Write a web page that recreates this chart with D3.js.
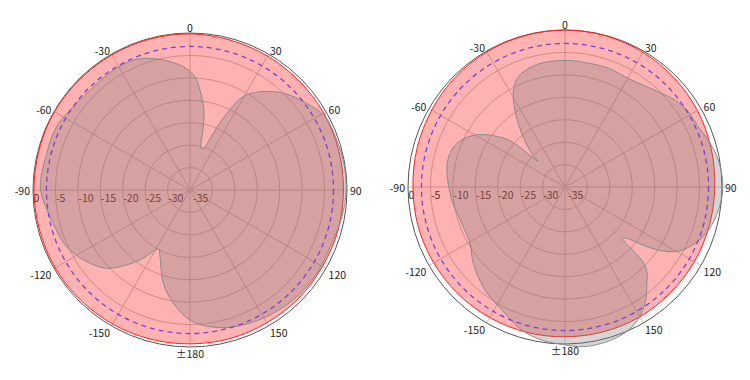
<!DOCTYPE html>
<html><head><meta charset="utf-8">
<script src="https://cdn.jsdelivr.net/npm/d3@7"></script>
<style>body{margin:0;background:#fff}svg{display:block}</style>
</head><body>
<svg id="chart" width="750" height="380"></svg>
<script>
// ---- data ----
const angleTicks  = [0, 30, 60, 90, 120, 150, 180, -150, -120, -90, -60, -30];
const angleLabels = ["0", "30", "60", "90", "120", "150", "±180", "-150", "-120", "-90", "-60", "-30"];
const ringTicks   = [0, -5, -10, -15, -20, -25, -30, -35];
const ringLabels  = ["0", "-5", "-10", "-15", "-20", "-25", "-30", "-35"];
const refLevel = -3;

const refAngles = [0,15,30,45,60,75,90,105,120,135,150,165,180,195,210,225,240,255,270,285,300,315,330,345];
const leftRef  = [-0.2,-0.4,-0.5,-0.6,-0.6,-0.7,-0.8,-0.8,-0.9,-0.8,-0.8,-0.7,-0.7,-0.6,-0.5,-0.4,-0.3,-0.3,-0.2,-0.2,-0.1,-0.2,-0.2,-0.2];
const rightRef = [0.0,-0.1,-0.3,-0.6,-0.9,-1.3,-1.6,-1.7,-1.7,-1.7,-1.6,-1.6,-1.6,-1.5,-1.4,-1.3,-1.2,-1.1,-1.1,-0.9,-0.7,-0.4,-0.2,-0.1];

const leftAngles = [-180,-171.6,-164,-155.8,-152,-145.6,-139.8,-133.2,-124.8,-114.7,-103.7,-92.7,-88,-76.9,-64.6,-48.8,-32.6,-23.6,-18.2,-10.2,-1.6,2.5,5.7,9.9,12.2,14.5,16.5,19.1,22.3,25.6,29.7,35.5,44,53.4,61.8,71.2,80,90,100,112,123.3,136.8,150.3,162.4,171.7];
const leftGain   = [-6.0,-9.5,-13.4,-18.7,-20.1,-16.6,-13.1,-9.5,-7.0,-4.7,-3.6,-2.0,-1.6,-2.0,-2.1,-3.4,-3.3,-3.4,-4.1,-5.7,-7.9,-9.7,-12.6,-16.9,-21.3,-25.4,-25.4,-24.8,-21.3,-16.1,-11.0,-8.1,-5.0,-2.6,-0.7,-0.45,-0.2,-0.2,-0.6,-1.3,-1.2,-1.4,-2.1,-3.0,-4.2];

const rightAngles = [-171.3,-163.2,-152.8,-142.2,-129.8,-120.6,-109.4,-96.5,-80.3,-71.9,-65.5,-60,-55.9,-50.3,-47.5,-46.5,-44.7,-38.9,-33,-28,-22.9,-15.5,-7.6,0,4.5,20,30.2,44.4,51.7,58.6,65.7,71.8,80,90,98.5,106.7,113.4,118.4,122,125.3,127.5,130,131.9,133.6,136,139.7,145.5,152.8,159,166.8,174,180];
const rightGain   = [-0.5,-1.7,-4.2,-5.9,-8.4,-10.4,-10.6,-9.6,-8.3,-8.4,-9.7,-11.8,-14.3,-18.6,-25,-26.6,-24.4,-19.6,-14.5,-10.5,-8.3,-7.2,-6.8,-6.8,-6.8,-6.8,-7.0,-5.3,-3.7,-2.8,-2.4,-1.4,-0.3,0.2,-0.4,-1.6,-3.4,-5.4,-7.8,-11.3,-14.4,-17.2,-17.5,-11.4,-8.7,-6.8,-3.5,-0.8,0.3,0.8,0.8,0.2];

// ---- drawing ----
const svg = d3.select("#chart");
const R0 = 157;
const FONT = "'Noto Sans CJK JP', 'DejaVu Sans', sans-serif";

function drawPolar(cx, cy, refVals, angs, gains) {
  const r = d3.scaleLinear().domain([-35, 0]).range([0, R0]);
  const a = d3.scaleLinear().domain([0, 360]).range([0, 2 * Math.PI]);
  const g = svg.append("g").attr("transform", `translate(${cx},${cy})`);

  // grid rings
  g.selectAll("circle.ring").data(ringTicks.filter(v => v < 0 && v > -35)).join("circle")
    .attr("r", d => r(d)).attr("fill", "none").attr("stroke", "#c4c4c4").attr("stroke-width", 1);
  // spokes
  g.selectAll("line.spoke").data(angleTicks).join("line")
    .attr("x1", 0).attr("y1", 0)
    .attr("x2", d => R0 * Math.sin(a(d))).attr("y2", d => -R0 * Math.cos(a(d)))
    .attr("stroke", "#c4c4c4").attr("stroke-width", 1);
  // ring labels
  g.selectAll("text.rl").data(ringTicks).join("text")
    .attr("x", (d, i) => -r(d) + (d === -35 ? 3 : 0.5)).attr("y", 12)
    .attr("font-family", FONT).attr("font-size", 10.5).attr("fill", "#333")
    .text((d, i) => ringLabels[i]);
  // outer circle
  g.append("circle").attr("r", r(0)).attr("fill", "none").attr("stroke", "#555").attr("stroke-width", 1);

  const lineRef = d3.lineRadial()
    .angle((d, i) => a(refAngles[i])).radius(d => r(d))
    .curve(d3.curveCatmullRomClosed.alpha(0.5));
  g.append("path").attr("d", lineRef(refVals))
    .attr("fill", "rgba(255,0,0,0.3)").attr("stroke", "#ff2020").attr("stroke-width", 1);

  const linePat = d3.lineRadial()
    .angle((d, i) => a(angs[i])).radius(d => r(d))
    .curve(d3.curveCatmullRomClosed.alpha(0.5));
  g.append("path").attr("d", linePat(gains))
    .attr("fill", "rgba(128,128,128,0.33)").attr("stroke", "#8c8c8c").attr("stroke-width", 1);

  // -3 dB reference
  g.append("circle").attr("r", r(refLevel)).attr("fill", "none")
    .attr("stroke", "#7a44d0").attr("stroke-width", 1.3).attr("stroke-dasharray", "5,4");

  // angle labels
  const RL = R0 + 3;
  angleTicks.forEach((d, i) => {
    const px = RL * Math.sin(a(d)), py = -RL * Math.cos(a(d));
    let anchor, x = px, y;
    if (d === 0) { anchor = "middle"; y = -R0 - 1; }
    else if (d === 180) { anchor = "middle"; y = R0 + 11; }
    else {
      anchor = d > 0 ? "start" : "end";
      y = Math.abs(d) <= 90 ? py + 4 : py + 8.5;
      if (Math.abs(d) === 90) y = py + 4.5;
    }
    g.append("text").attr("x", x).attr("y", y).attr("text-anchor", anchor)
      .attr("font-family", FONT).attr("font-size", 10.5).attr("fill", "#222")
      .text(angleLabels[i]);
  });
}

drawPolar(190, 190, leftRef, leftAngles, leftGain);
drawPolar(565, 187, rightRef, rightAngles, rightGain);
</script>
</body></html>
